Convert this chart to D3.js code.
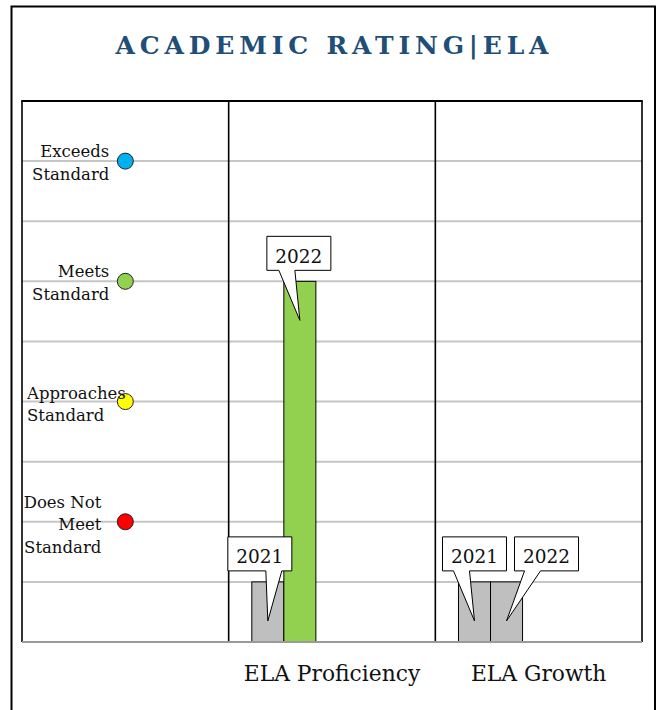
<!DOCTYPE html>
<html lang="en">
  <head>
    <meta charset="utf-8" />
    <title>Academic Rating | ELA</title>
    <script src="https://d3js.org/d3.v7.js"></script>
    <style>
      body { margin: 0; background: #fff; }
      text { font-family: "DejaVu Serif", serif; }
    </style>
  </head>
  <body>
    <script>

    // chart data
    var categories = ["", "ELA Proficiency", "ELA Growth"];
    var years = ["2021", "2022"];
    var proficiency = [1, 6];
    var growth = [1, 1];
    var levelNames = [["Does Not", "Meet", "Standard"], ["Approaches", "Standard"], ["Meets", "Standard"], ["Exceeds", "Standard"]];
    var levelValues = [2, 4, 6, 8];
    var levelColors = ["#ff0000", "#ffff00", "#92d050", "#00b0f0"];
    var yMax = 9;

    var w = 656, h = 710;
    var margin = {top: 101, right: 14, bottom: 68, left: 22};

    var svg = d3.select("body")
      .append("svg")
        .attr("width", w)
        .attr("height", h);

    // outer frame
    svg.append("rect")
      .attr("x", 11.5).attr("y", 6.5)
      .attr("width", 643.5).attr("height", 720)
      .attr("fill", "none")
      .attr("stroke", "#000")
      .attr("stroke-width", 2);

    // title
    svg.append("text")
      .attr("x", 332)
      .attr("y", 54)
      .attr("text-anchor", "middle")
      .attr("font-size", 25)
      .attr("font-weight", "bold")
      .attr("fill", "#1f4e79")
      .attr("textLength", 433)
      .attr("lengthAdjust", "spacing")
      .text("ACADEMIC RATING|ELA");

    // scales
    var x0 = d3.scaleBand()
      .domain(categories)
      .range([margin.left, w - margin.right]);

    var bw = x0.bandwidth();
    var x1 = d3.scaleBand()
      .domain(years)
      .range([bw * 0.112, bw * 0.422]);

    var y = d3.scaleLinear()
      .domain([0, yMax])
      .range([h - margin.bottom, margin.top]);

    // gridlines
    svg.append("g")
      .selectAll("line")
      .data(d3.range(1, yMax))
      .join("line")
        .attr("x1", x0.range()[0])
        .attr("x2", x0.range()[1])
        .attr("y1", d => y(d))
        .attr("y2", d => y(d))
        .attr("stroke", "#c6c6c6")
        .attr("stroke-width", 2);

    // column dividers + top border
    svg.append("g")
      .selectAll("line")
      .data(categories.map(c => x0(c)).concat([x0.range()[1]]))
      .join("line")
        .attr("x1", d => d).attr("x2", d => d)
        .attr("y1", y(yMax)).attr("y2", y(0))
        .attr("stroke", "#000")
        .attr("stroke-width", 1.6);

    svg.append("line")
      .attr("x1", x0.range()[0] - 0.8).attr("x2", x0.range()[1] + 0.8)
      .attr("y1", y(yMax)).attr("y2", y(yMax))
      .attr("stroke", "#000")
      .attr("stroke-width", 1.8);

    // bars
    var rows = [
      {cat: categories[1], vals: proficiency},
      {cat: categories[2], vals: growth}
    ];
    var bars = [];
    rows.forEach(function (r) {
      years.forEach(function (yr, i) {
        bars.push({cat: r.cat, year: yr, value: r.vals[i]});
      });
    });

    function barColor(v) {
      var k = levelValues.indexOf(v);
      return k >= 0 ? levelColors[k] : "#bfbfbf";
    }

    svg.append("g")
      .selectAll("rect")
      .data(bars)
      .join("rect")
        .attr("x", d => x0(d.cat) + x1(d.year))
        .attr("y", d => y(d.value))
        .attr("width", x1.bandwidth())
        .attr("height", d => y(0) - y(d.value))
        .attr("fill", d => barColor(d.value))
        .attr("stroke", "#000")
        .attr("stroke-width", 1);

    // bottom axis line
    svg.append("line")
      .attr("x1", x0.range()[0]).attr("x2", x0.range()[1])
      .attr("y1", y(0)).attr("y2", y(0))
      .attr("stroke", "#9a9a9a")
      .attr("stroke-width", 2);

    // category labels
    svg.append("g")
      .selectAll("text")
      .data(categories.slice(1))
      .join("text")
        .attr("x", d => x0(d) + bw / 2)
        .attr("y", 681)
        .attr("text-anchor", "middle")
        .attr("font-size", 21.8)
        .attr("fill", "#111")
        .text(d => d);

    // rating level dots in the first column
    var dotX = x0(categories[0]) + bw / 2;
    svg.append("g")
      .selectAll("circle")
      .data(levelValues)
      .join("circle")
        .attr("cx", dotX)
        .attr("cy", d => y(d))
        .attr("r", 8)
        .attr("fill", (d, i) => levelColors[i])
        .attr("stroke", "#222")
        .attr("stroke-width", 1);

    // level labels (left of the dot)
    var labelPos = [
      {x: dotX - 24, anchor: "end", dy: -14, lh: 22.5},
      {x: 27, anchor: "start", dy: -3, lh: 22.5},
      {x: dotX - 16, anchor: "end", dy: -4, lh: 22.5},
      {x: dotX - 16, anchor: "end", dy: -4, lh: 22.5}
    ];
    levelNames.forEach(function (lines, i) {
      var p = labelPos[i];
      svg.append("text")
        .attr("text-anchor", p.anchor)
        .attr("font-size", 16.5)
        .attr("fill", "#111")
        .selectAll("tspan")
        .data(lines)
        .join("tspan")
          .attr("x", p.x)
          .attr("y", (d, j) => y(levelValues[i]) + p.dy + j * p.lh)
          .text(d => d);
    });

    // year callouts: box centre offset, tail base offset (from box centre)
    var callout = [
      {dx: -8, tail: 6},
      {dx: -1, tail: -20},
      {dx: 0, tail: -21},
      {dx: 40, tail: -22}
    ];
    var boxW = 64, boxH = 34, tailW = 16;

    var co = svg.append("g")
      .selectAll("g")
      .data(bars)
      .join("g");

    co.append("path")
      .attr("d", function (d, i) {
        var tx = x0(d.cat) + x1(d.year) + x1.bandwidth() / 2;
        var ty = y(d.value) + 39;
        var cx = tx + callout[i].dx;
        var top = ty - 84, bot = top + boxH;
        var l = cx - boxW / 2, r = cx + boxW / 2;
        var b0 = cx + callout[i].tail, b1 = b0 + tailW;
        return "M" + l + "," + top + "H" + r + "V" + bot + "H" + b1 +
          "L" + tx + "," + ty + "L" + b0 + "," + bot + "H" + l + "Z";
      })
      .attr("fill", "#fff")
      .attr("stroke", "#000")
      .attr("stroke-width", 1);

    co.append("text")
      .attr("x", (d, i) => x0(d.cat) + x1(d.year) + x1.bandwidth() / 2 + callout[i].dx)
      .attr("y", d => y(d.value) + 39 - 84 + 26.5)
      .attr("text-anchor", "middle")
      .attr("font-size", 18.5)
      .attr("fill", "#111")
      .text(d => d.year);

    </script>
  </body>
</html>
